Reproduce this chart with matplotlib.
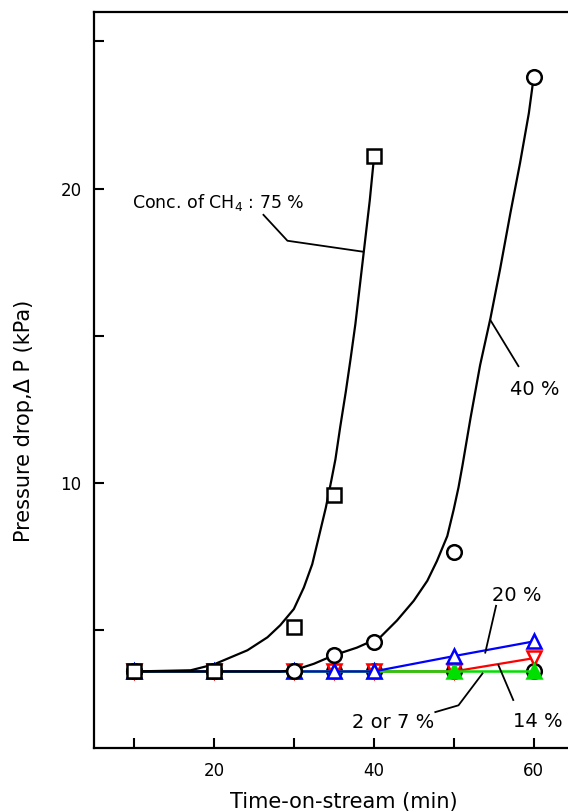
import matplotlib
matplotlib.use("Agg")
import matplotlib.pyplot as plt
from matplotlib.ticker import MultipleLocator

plt.rcParams['font.family'] = ['DejaVu Sans']

# ---- data ----
time = [10, 20, 30, 35, 40, 50, 60]
time75 = [10, 20, 30, 35, 40]
p75 = [3.6, 3.6, 5.1, 9.6, 21.1]
p40 = [3.6, 3.6, 3.6, 4.15, 4.6, 7.65, 23.8]
p20 = [3.6, 3.6, 3.6, 3.6, 3.6, 4.12, 4.62]
p14 = [3.6, 3.6, 3.6, 3.6, 3.6, 3.6, 4.05]
p7 = [3.6, 3.6, 3.6, 3.6, 3.6, 3.6, 3.6]
p2 = [3.6, 3.6, 3.6, 3.6, 3.6, 3.6, 3.6]

# fitted curves
fit75_t = [10, 17.1, 20.0, 24.2, 26.7, 28.3, 30.0, 31.25, 32.3, 33.1, 34.0, 34.7,
           35.2, 35.8, 36.5, 37.1, 37.7, 38.3, 38.9, 39.5, 40.0]
fit75_p = [3.6, 3.64, 3.84, 4.32, 4.76, 5.17, 5.72, 6.45, 7.24, 8.14, 9.16, 10.1,
           10.8, 11.9, 13.1, 14.22, 15.4, 16.8, 18.2, 19.6, 20.98]
fit40_t = [10, 28.3, 30.0, 32.5, 35.0, 37.9, 40.8, 42.9, 45.0, 46.7, 47.9, 49.2,
           50.0, 50.6, 51.1, 52.1, 53.3, 54.6, 55.8, 57.1, 58.3, 59.4, 59.9]
fit40_p = [3.6, 3.6, 3.64, 3.86, 4.15, 4.41, 4.76, 5.33, 6.0, 6.68, 7.35, 8.2,
           9.1, 9.85, 10.6, 12.2, 14.0, 15.6, 17.26, 19.18, 20.87, 22.56, 23.57]

fig = plt.figure(figsize=(5.68, 8.11), dpi=100)
ax = fig.add_axes([94 / 568, 63 / 811, 474 / 568, 736 / 811])

ms = 10.5
mew = 1.8
ax.plot(time, p2, linestyle='none', marker='o', ms=ms, mew=mew, mec='black', mfc='white', zorder=3)
ax.plot(time, p14, color='#ff0000', lw=1.6, marker='v', ms=ms, mew=mew, mec='#ff0000', mfc='white', zorder=4)
ax.plot(time, p7, color='#00e000', lw=1.8, marker='^', ms=ms, mew=mew, mec='#00e000', mfc='#00e000', zorder=5)
ax.plot(time, p20, color='#0000ff', lw=1.6, marker='^', ms=ms, mew=mew, mec='#0000ff', mfc='white', zorder=6)
ax.plot(fit40_t, fit40_p, color='black', lw=1.6, zorder=7)
ax.plot(time, p40, linestyle='none', marker='o', ms=ms, mew=mew, mec='black', mfc='white', zorder=7.5)
ax.plot(fit75_t, fit75_p, color='black', lw=1.6, zorder=8)
ax.plot(time75, p75, linestyle='none', marker='s', ms=ms, mew=mew, mec='black', mfc='white', zorder=8.5)

# leader lines and labels
lk = dict(color='black', lw=1.3, zorder=9)
ax.plot([26.2, 29.2, 38.6], [19.11, 18.23, 17.86], **lk)
ax.text(9.8, 19.35, 'Conc. of CH$_4$ : 75 %', fontsize=12.5, ha='left', va='baseline')
ax.plot([54.6, 58.1], [15.53, 13.97], **lk)
ax.text(57.1, 13.0, '40 %', fontsize=14, ha='left', va='baseline')
ax.plot([55.3, 53.95], [5.83, 4.24], **lk)
ax.text(54.8, 6.0, '20 %', fontsize=14, ha='left', va='baseline')
ax.plot([57.45, 55.6], [2.63, 3.81], **lk)
ax.text(57.45, 1.71, '14 %', fontsize=14, ha='left', va='baseline')
ax.plot([47.7, 50.6, 53.6], [2.22, 2.45, 3.53], **lk)
ax.text(37.3, 1.68, '2 or 7 %', fontsize=14, ha='left', va='baseline')

ax.set_xlim(5, 64.3)
ax.set_ylim(1, 26)
ax.xaxis.set_major_locator(MultipleLocator(20))
ax.xaxis.set_minor_locator(MultipleLocator(10))
ax.yaxis.set_major_locator(MultipleLocator(10))
ax.yaxis.set_minor_locator(MultipleLocator(5))
ax.tick_params(which='both', direction='in', length=7, width=1.5, labelsize=12)
ax.tick_params(axis='x', which='both', pad=10)
ax.tick_params(axis='y', which='both', pad=9)
ax.set_xticks([20, 40, 60])
ax.set_yticks([10, 20])

for s in ['left', 'bottom', 'top']:
    ax.spines[s].set_linewidth(1.6)
ax.spines['right'].set_visible(False)

ax.set_xlabel('Time-on-stream (min)', fontsize=15)
ax.xaxis.set_label_coords(0.528, -0.060)
ax.set_ylabel('Pressure drop,Δ P (kPa)', fontsize=15)
ax.yaxis.set_label_coords(-0.127, 0.445)

fig.savefig('out.png', dpi=100)
